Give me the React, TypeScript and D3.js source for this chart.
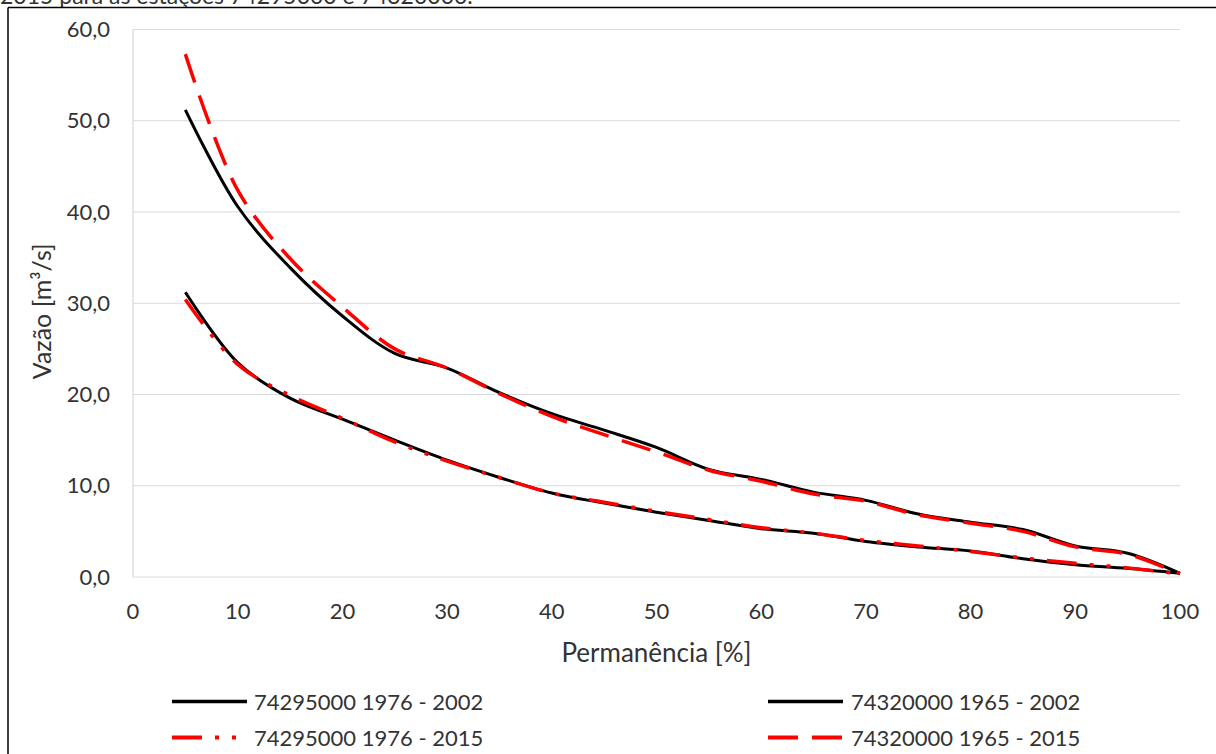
import React from "react";
import * as d3 from "d3";

// Duration curves: exceedance (%) vs discharge (m³/s)
const permanence = [5, 10, 15, 20, 25, 30, 35, 40, 45, 50, 55, 60, 65, 70, 75, 80, 85, 90, 95, 100];

const st74295000_1976_2002 = [31.2, 23.5, 19.6, 17.3, 15.0, 12.8, 10.9, 9.2, 8.1, 7.1, 6.2, 5.3, 4.8, 3.9, 3.3, 2.85, 2.0, 1.35, 0.95, 0.4];
const st74320000_1965_2002 = [51.2, 40.6, 33.9, 28.6, 24.5, 22.9, 20.2, 17.9, 16.1, 14.2, 11.8, 10.7, 9.3, 8.4, 6.9, 6.0, 5.2, 3.4, 2.6, 0.4];
const st74295000_1976_2015 = [30.4, 23.3, 19.9, 17.4, 14.8, 12.7, 10.9, 9.2, 8.2, 7.2, 6.3, 5.4, 4.8, 4.0, 3.4, 2.8, 2.1, 1.5, 1.0, 0.35];
const st74320000_1965_2015 = [57.3, 42.4, 34.9, 29.6, 25.0, 22.9, 20.1, 17.6, 15.6, 13.7, 11.7, 10.5, 9.1, 8.3, 6.8, 5.9, 5.0, 3.3, 2.5, 0.35];

const xTicks = [0, 10, 20, 30, 40, 50, 60, 70, 80, 90, 100];
const yTicks = [0, 10, 20, 30, 40, 50, 60];

const seriesNames = [
  "74295000 1976 - 2002",
  "74320000 1965 - 2002",
  "74295000 1976 - 2015",
  "74320000 1965 - 2015",
];

const captionText = "2015 para as estações 74295000 e 74320000.";

const W = 1216;
const H = 754;
const plot = { left: 133, right: 1180, top: 29.5, bottom: 577 };
const FONT = "Lato, 'Open Sans', sans-serif";
const TEXT = "#333333";

type Style = { color: string; width: number; dash?: string };
const styles: Style[] = [
  { color: "#000000", width: 3 },
  { color: "#000000", width: 3 },
  { color: "#ff0000", width: 3.5, dash: "30 13 4 13 4 13" },
  { color: "#ff0000", width: 3.5, dash: "30 14" },
];

export default function App() {
  const x = d3.scaleLinear().domain([0, 100]).range([plot.left, plot.right]);
  const y = d3.scaleLinear().domain([0, 60]).range([plot.bottom, plot.top]);

  const series = [st74295000_1976_2002, st74320000_1965_2002, st74295000_1976_2015, st74320000_1965_2015];

  const line = d3
    .line<number>()
    .x((_, i) => x(permanence[i]))
    .y((v) => y(v))
    .curve(d3.curveCatmullRom.alpha(0.5));

  const legendItems = [
    { lx: 172, ly: 701.5, tx: 254, ty: 710 },
    { lx: 768, ly: 701.5, tx: 851, ty: 710 },
    { lx: 172, ly: 737.5, tx: 254, ty: 745.5 },
    { lx: 768, ly: 737.5, tx: 851, ty: 745.5 },
  ];

  return (
    <svg
      width={W}
      height={H}
      style={{ position: "fixed", left: 0, top: 0, background: "#fff" }}
      fontFamily={FONT}
    >
      <rect x={0} y={0} width={W} height={H} fill="#fff" />
      {/* caption line running above the frame */}
      <text x={0} y={4} fontSize={23} fill={TEXT}>
        {captionText}
      </text>
      {/* frame */}
      <line x1={8} y1={7.5} x2={W} y2={7.5} stroke="#000" strokeWidth={1.5} />
      <line x1={8} y1={7.5} x2={8} y2={H} stroke="#000" strokeWidth={1.5} />

      {/* gridlines */}
      {yTicks.map((t) => (
        <line key={t} x1={plot.left} x2={plot.right} y1={y(t)} y2={y(t)} stroke="#d9d9d9" strokeWidth={1.2} />
      ))}
      <line x1={plot.left} x2={plot.left} y1={plot.top} y2={plot.bottom} stroke="#d9d9d9" strokeWidth={1.2} />

      {/* tick labels */}
      {yTicks.map((t) => (
        <text key={t} x={110} y={y(t)} dy="0.35em" textAnchor="end" fontSize={22} fill={TEXT}>
          {d3.format(".1f")(t).replace(".", ",")}
        </text>
      ))}
      {xTicks.map((t) => (
        <text key={t} x={x(t)} y={619} textAnchor="middle" fontSize={22} fill={TEXT}>
          {t}
        </text>
      ))}

      {/* axis titles */}
      <text
        transform={`translate(51, ${(plot.top + plot.bottom) / 2 + 8}) rotate(-90)`}
        textAnchor="middle"
        fontSize={25}
        fill={TEXT}
      >
        Vazão [m³/s]
      </text>
      <text x={(plot.left + plot.right) / 2} y={662} textAnchor="middle" fontSize={26} fill={TEXT}>
        Permanência [%]
      </text>

      {/* curves */}
      {series.map((s, i) => (
        <path
          key={i}
          d={line(s) || ""}
          fill="none"
          stroke={styles[i].color}
          strokeWidth={styles[i].width}
          strokeDasharray={styles[i].dash}
          strokeLinejoin="round"
        />
      ))}

      {/* legend */}
      {legendItems.map((it, i) => (
        <g key={i}>
          <line
            x1={it.lx}
            x2={it.lx + 75}
            y1={it.ly}
            y2={it.ly}
            stroke={styles[i].color}
            strokeWidth={styles[i].width + 0.5}
            strokeDasharray={styles[i].dash}
          />
          <text x={it.tx} y={it.ty} fontSize={22} fill={TEXT}>
            {seriesNames[i]}
          </text>
        </g>
      ))}
    </svg>
  );
}
